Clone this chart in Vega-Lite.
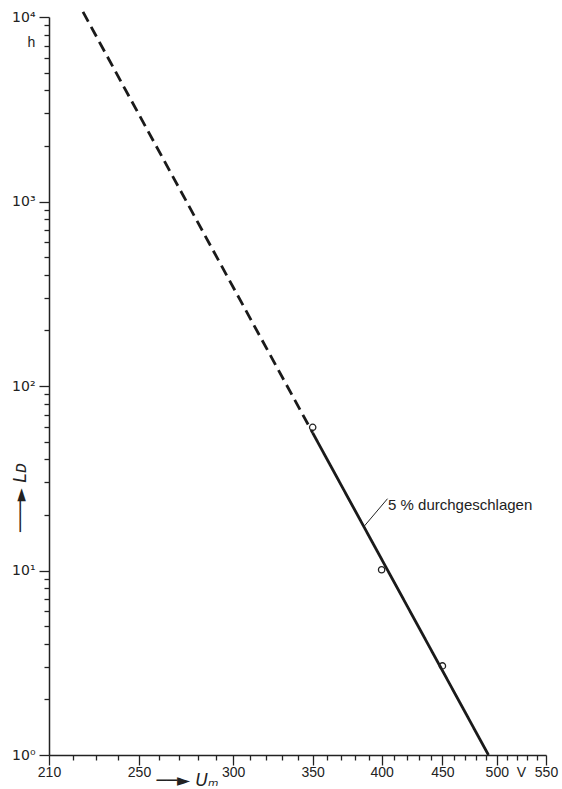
{
  "$schema": "https://vega.github.io/schema/vega-lite/v6.json",
  "width": 497,
  "height": 738,
  "autosize": {"type": "none"},
  "padding": {"left": 49, "top": 17, "right": 16, "bottom": 34},
  "background": "white",
  "config": {
    "view": {"stroke": null},
    "font": "Liberation Sans",
    "axis": {
      "grid": false,
      "domainColor": "#222",
      "domainWidth": 1.5,
      "tickColor": "#222",
      "tickWidth": 1.3,
      "labelColor": "#222",
      "labelFont": "Liberation Sans",
      "labelFontSize": 14,
      "labelOverlap": false,
      "labelFlush": false,
      "titleFont": "DejaVu Sans",
      "titleColor": "#222",
      "titleFontWeight": "normal"
    }
  },
  "datasets": {
    "linie": [
      {"U": 224.3, "L": 10650, "abschnitt": "extrapoliert"},
      {"U": 350, "L": 55.7, "abschnitt": "extrapoliert"},
      {"U": 350, "L": 55.7, "abschnitt": "gemessen"},
      {"U": 492, "L": 1, "abschnitt": "gemessen"}
    ],
    "punkte": [
      {"U": 350, "L": 59.7},
      {"U": 400, "L": 10.1},
      {"U": 450, "L": 3.04}
    ],
    "notiz": [
      {"U": 405, "L": 22.7, "text": "5 % durchgeschlagen"}
    ],
    "zeiger": [
      {"U": 404.6, "L": 24.5, "U2": 386.5, "L2": 17.3}
    ],
    "einheit": [
      {"U": 203, "L": 7230, "text": "h"}
    ]
  },
  "encoding": {
    "x": {
      "field": "U",
      "type": "quantitative",
      "scale": {"type": "log", "domain": [210, 550], "nice": false},
      "axis": {
        "values": [210,220,230,240,250,260,270,280,290,300,310,320,330,340,350,360,370,380,390,400,410,420,430,440,450,460,470,480,490,500,510,520,530,540,550],
        "labelExpr": "indexof([210,250,300,350,400,450,500,550], datum.value) >= 0 ? (datum.value == 500 ? '500\u00a0\u00a0V' : '' + datum.value) : ''",
        "tickSize": {"condition": {"test": "indexof([210,250,300,350,400,450,500,550], datum.value) >= 0", "value": 10}, "value": 5},
        "labelAlign": {"condition": {"test": "datum.value == 500", "value": "left"}, "value": "center"},
        "labelOffset": {"condition": {"test": "datum.value == 500", "value": -11.7}, "value": 0},
        "labelPadding": 0,
        "title": "──► Uₘ",
        "titleFontStyle": "italic",
        "titleFontSize": 17,
        "titleX": 138,
        "titleY": 25,
        "titleBaseline": "middle",
        "titleAlign": "center"
      }
    },
    "y": {
      "field": "L",
      "type": "quantitative",
      "scale": {"type": "log", "domain": [1, 10000], "nice": false},
      "axis": {
        "values": [1,2,3,4,5,6,7,8,9,10,20,30,40,50,60,70,80,90,100,200,300,400,500,600,700,800,900,1000,2000,3000,4000,5000,6000,7000,8000,9000,10000],
        "labelExpr": "datum.value == 1 ? '10⁰' : datum.value == 10 ? '10¹' : datum.value == 100 ? '10²' : datum.value == 1000 ? '10³' : datum.value == 10000 ? '10⁴' : ''",
        "labelFont": "DejaVu Sans",
        "tickSize": {"condition": {"test": "indexof([1,10,100,1000,10000], datum.value) >= 0", "value": 10}, "value": 5},
        "labelPadding": 4,
        "title": "───► Lᴅ",
        "titleFontStyle": "italic",
        "titleFontSize": 17,
        "titleX": -29,
        "titleY": 480,
        "titleBaseline": "middle",
        "titleAlign": "center"
      }
    }
  },
  "layer": [
    {
      "data": {"name": "linie"},
      "mark": {"type": "line", "color": "#1a1a1a", "strokeWidth": 2.8, "strokeCap": "butt"},
      "encoding": {
        "strokeDash": {
          "field": "abschnitt",
          "type": "nominal",
          "scale": {"domain": ["extrapoliert", "gemessen"], "range": [[11, 6], [1, 0]]},
          "legend": null
        }
      }
    },
    {
      "data": {"name": "punkte"},
      "mark": {"type": "point", "shape": "circle", "filled": false, "size": 40, "stroke": "#222", "strokeWidth": 1.3, "opacity": 1}
    },
    {
      "data": {"name": "zeiger"},
      "mark": {"type": "rule", "color": "#222", "strokeWidth": 1},
      "encoding": {
        "x2": {"field": "U2"},
        "y2": {"field": "L2"}
      }
    },
    {
      "data": {"name": "notiz"},
      "mark": {"type": "text", "align": "left", "baseline": "middle", "fontSize": 15, "font": "Liberation Sans", "color": "#222"},
      "encoding": {"text": {"field": "text"}}
    },
    {
      "data": {"name": "einheit"},
      "mark": {"type": "text", "align": "center", "baseline": "middle", "fontSize": 14, "font": "Liberation Sans", "color": "#222"},
      "encoding": {"text": {"field": "text"}}
    }
  ]
}
